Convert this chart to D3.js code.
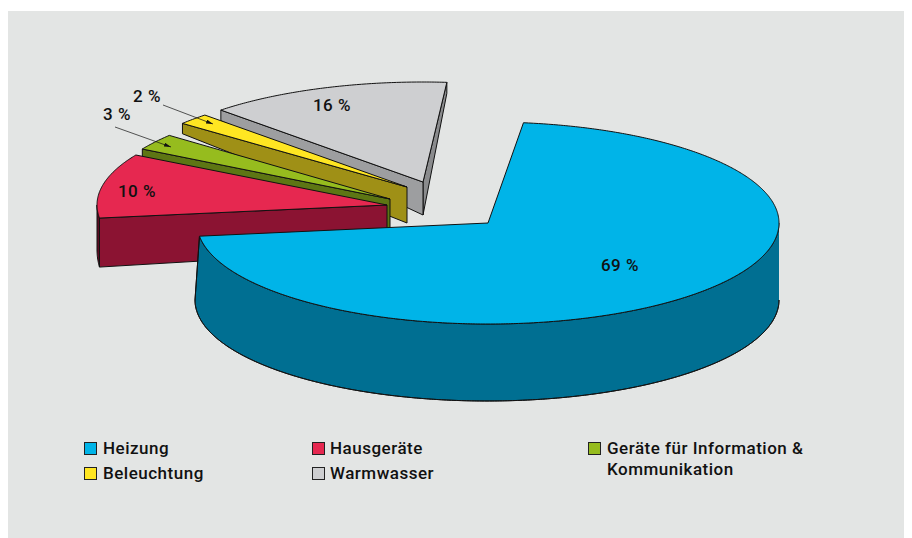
<!DOCTYPE html>
<html><head><meta charset="utf-8">
<script src="https://cdn.jsdelivr.net/npm/d3@7"></script>
<style>html,body{margin:0;padding:0;background:#fff}svg{display:block}
text{font-family:Roboto,"Liberation Sans",sans-serif;font-weight:500;fill:#111;font-size:17px;letter-spacing:.5px}</style>
</head><body><svg id="c" width="912" height="538"></svg>
<script>
// data
const categories = ["Heizung","Hausgeräte","Geräte für Information & Kommunikation","Beleuchtung","Warmwasser"];
const shares = [69,10,3,2,16];
// styles
const topColors = ["#00b4e8","#e62850","#96bc1e","#ffe622","#cecfd1"];
const wallColors = ["#006f92","#8b1332","#5d7614","#9f9016","#9d9ea0"];
const sideColors = ["#006f92","#5f0c22","#5d7614","#9f9016","#8a8b8d"];
// layout: apex of each exploded slice, ellipse radii
const apexX = [488,387,390,407,423];
const apexY = [223,205,199,187,182];
const radiusX = [291,290,286,291,291];
const radiusY = [101,100,100,100,100];
const drawOrder = [4,3,2,1,0];
const labelX = [620,137,117,147,332];
const labelY = [265,191,114,96,105];
const arrowFrom = [null,null,[115,127],[163,105],null];
const arrowTo = [null,null,[171,147],[213,124],null];
const rad = Math.PI/180;

const svg = d3.select("#c");
svg.append("rect").attr("x",8).attr("y",11).attr("width",896).attr("height",527).attr("fill","#e3e5e4");

// Pie angles, warped by the picture's perspective
const pie = d3.pie().sort(null).value(d=>d)(shares);
const warp = d3.scaleLinear().domain([0,248.4,284.4,295.2,302.4,360]).range([7,262.5,300,309.5,316,364.7]);
// Wall height grows towards the viewer
const depthOf = d3.scaleLinear().domain([80,147,182,187,205,218]).range([11,10,33,36,45,49]);
const heizungDepth = 77;

const line = d3.line();
const pt = (i,t,dy=0,grow=0,shift=0)=>[apexX[i]+shift+(radiusX[i]+grow)*Math.sin(t*rad), apexY[i]-radiusY[i]*Math.cos(t*rad)+dy];
const wallD = (i,y)=> i===0 ? heizungDepth : depthOf(y);
const arcPts = (i,a,b,fn)=>{const n=Math.max(2,Math.ceil(Math.abs(b-a)*2));return d3.range(n+1).map(k=>fn(a+(b-a)*k/n));};

const g = svg.append("g").attr("stroke","#111").attr("stroke-width",1).attr("stroke-linejoin","round");
drawOrder.forEach(i=>{
  const a = warp(pie[i].startAngle/rad), b = warp(pie[i].endAngle/rad);
  const ax=apexX[i], ay=apexY[i];
  const A=pt(i,a), B=pt(i,b);
  if(i===0){
    const tops = arcPts(i,90,b,t=>pt(i,t));
    const bots = arcPts(i,90,270,t=>pt(i,t,heizungDepth,1,-1));
    g.append("path").attr("d",line(tops.concat(bots.slice().reverse())))
      .attr("fill",wallColors[i]);
    g.append("path").attr("d",line([B].concat(bots.slice().reverse())))
      .attr("fill","none");
  } else {
    const dA=wallD(i,A[1]), dB=wallD(i,B[1]), dO=wallD(i,ay);
    if(i===4){
      g.append("path").attr("d",line([[ax,ay],B,[B[0],B[1]+dB],[ax,ay+dO]])+"Z").attr("fill",sideColors[i]);
    }
    g.append("path").attr("d",line([[ax,ay],A,[A[0],A[1]+dA],[ax,ay+dO]])+"Z").attr("fill",wallColors[i]);
    if(a<270){
      const w = arcPts(i,a,270,t=>pt(i,t));
      const wb = w.map(p=>[p[0],p[1]+wallD(i,p[1])]);
      g.append("path").attr("d",line(w.concat(wb.reverse()))+"Z").attr("fill",sideColors[i]);
    }
  }
  g.append("path").attr("d",line([[ax,ay]].concat(arcPts(i,a,b,t=>pt(i,t))))+"Z").attr("fill",topColors[i]);
});

// arrows
svg.append("defs").append("marker").attr("id","ah").attr("viewBox","0 0 7 4").attr("refX",7).attr("refY",2)
  .attr("markerWidth",7).attr("markerHeight",4).attr("orient","auto").attr("markerUnits","userSpaceOnUse")
  .append("path").attr("d","M0,0L7,2L0,4Z").attr("fill","#111");
shares.forEach((s,i)=>{
  if(arrowFrom[i]) svg.append("line").attr("x1",arrowFrom[i][0]).attr("y1",arrowFrom[i][1]).attr("x2",arrowTo[i][0]).attr("y2",arrowTo[i][1])
    .attr("stroke","#111").attr("stroke-width",.7).attr("marker-end","url(#ah)");
  svg.append("text").attr("x",labelX[i]).attr("y",labelY[i]).attr("dy","0.35em").attr("text-anchor","middle").text(s+" %");
});

// legend
const swatchX=[84,312,588,84,312], swatchY=[442,442,442,467,467];
const legendLines = categories.map(c=>c==="Geräte für Information & Kommunikation"?["Geräte für Information &","Kommunikation"]:[c]);
const legendTextX=[103,330,607,103,330];
categories.forEach((c,i)=>{
  svg.append("rect").attr("x",swatchX[i]+.5).attr("y",swatchY[i]+.5).attr("width",12).attr("height",12)
    .attr("fill",topColors[i]).attr("stroke","#222").attr("stroke-width",1);
  legendLines[i].forEach((l,k)=>svg.append("text").attr("x",legendTextX[i]).attr("y",swatchY[i]+12+k*21).text(l));
});
</script></body></html>
